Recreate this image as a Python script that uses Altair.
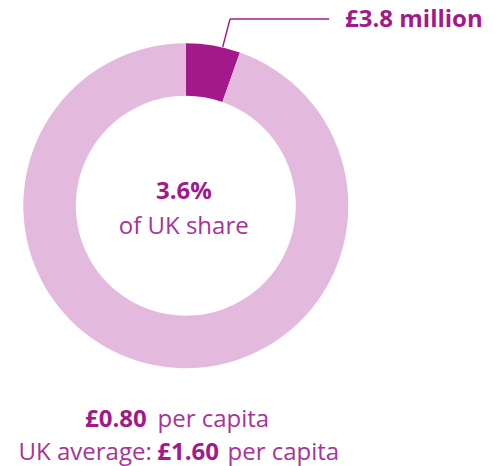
import altair as alt
import pandas as pd

# ---- data ----
categories = ["Region", "Rest of UK"]
shares = [5.4, 94.6]          # visual share of the ring
amount_label = ["£3.8 million"]
share_label = ["3.6%"]
share_sub = ["of UK share"]
capita_value = ["£0.80"]
capita_text = ["per capita"]
uk_prefix = ["UK average:"]
uk_value = ["£1.60"]

DARK = "#A3198B"
LIGHT = "#E3BADD"
TEXT = "#A7339A"
FONT = "Open Sans"

df = pd.DataFrame({"cat": categories, "share": shares, "ord": list(range(len(categories)))})

CX, CY = 177.8, 197.7

donut = alt.Chart(df).mark_arc(outerRadius=162.5, innerRadius=110, stroke=None).encode(
    theta=alt.Theta("share:Q", stack=True),
    order=alt.Order("ord:Q"),
    color=alt.Color("cat:N", scale=alt.Scale(domain=categories, range=[DARK, LIGHT]), legend=None),
    x=alt.value(CX),
    y=alt.value(CY),
)

def txt(values, x, y, size, bold=False, align="left", color=TEXT):
    d = pd.DataFrame({"t": values})
    return alt.Chart(d).mark_text(
        align=align, baseline="alphabetic", fontSize=size, font=FONT,
        fontWeight="bold" if bold else "normal", color=color,
    ).encode(text="t:N", x=alt.value(x), y=alt.value(y))

one = pd.DataFrame({"a": [0]})
leader1 = alt.Chart(one).mark_rule(color=DARK, strokeWidth=1.4).encode(
    x=alt.value(214.7), y=alt.value(39), x2=alt.value(222), y2=alt.value(11))
leader2 = alt.Chart(one).mark_rule(color=DARK, strokeWidth=1.4).encode(
    x=alt.value(222), y=alt.value(11), x2=alt.value(321), y2=alt.value(11))

layers = [
    donut, leader1, leader2,
    txt(amount_label, 337, 18.7, 24, bold=True, color=DARK),
    txt(share_label, 176, 191.3, 24, bold=True, align="center", color=DARK),
    txt(share_sub, 175.7, 226, 24, align="center"),
    txt(capita_value, 138.7, 419, 24, bold=True, align="right", color=DARK),
    txt(capita_text, 149.5, 419, 24),
    txt(uk_prefix, 143.7, 452, 24, align="right"),
    txt(uk_value, 149.3, 452, 24, bold=True, color=DARK),
    txt(capita_text, 219.5, 452, 24),
]

chart = alt.layer(*layers).properties(
    width=478, height=458, padding=0,
    autosize=alt.AutoSizeParams(type="none"),
).configure_view(stroke=None)

chart.save("out.html", embed_options={"renderer": "svg", "actions": False})
